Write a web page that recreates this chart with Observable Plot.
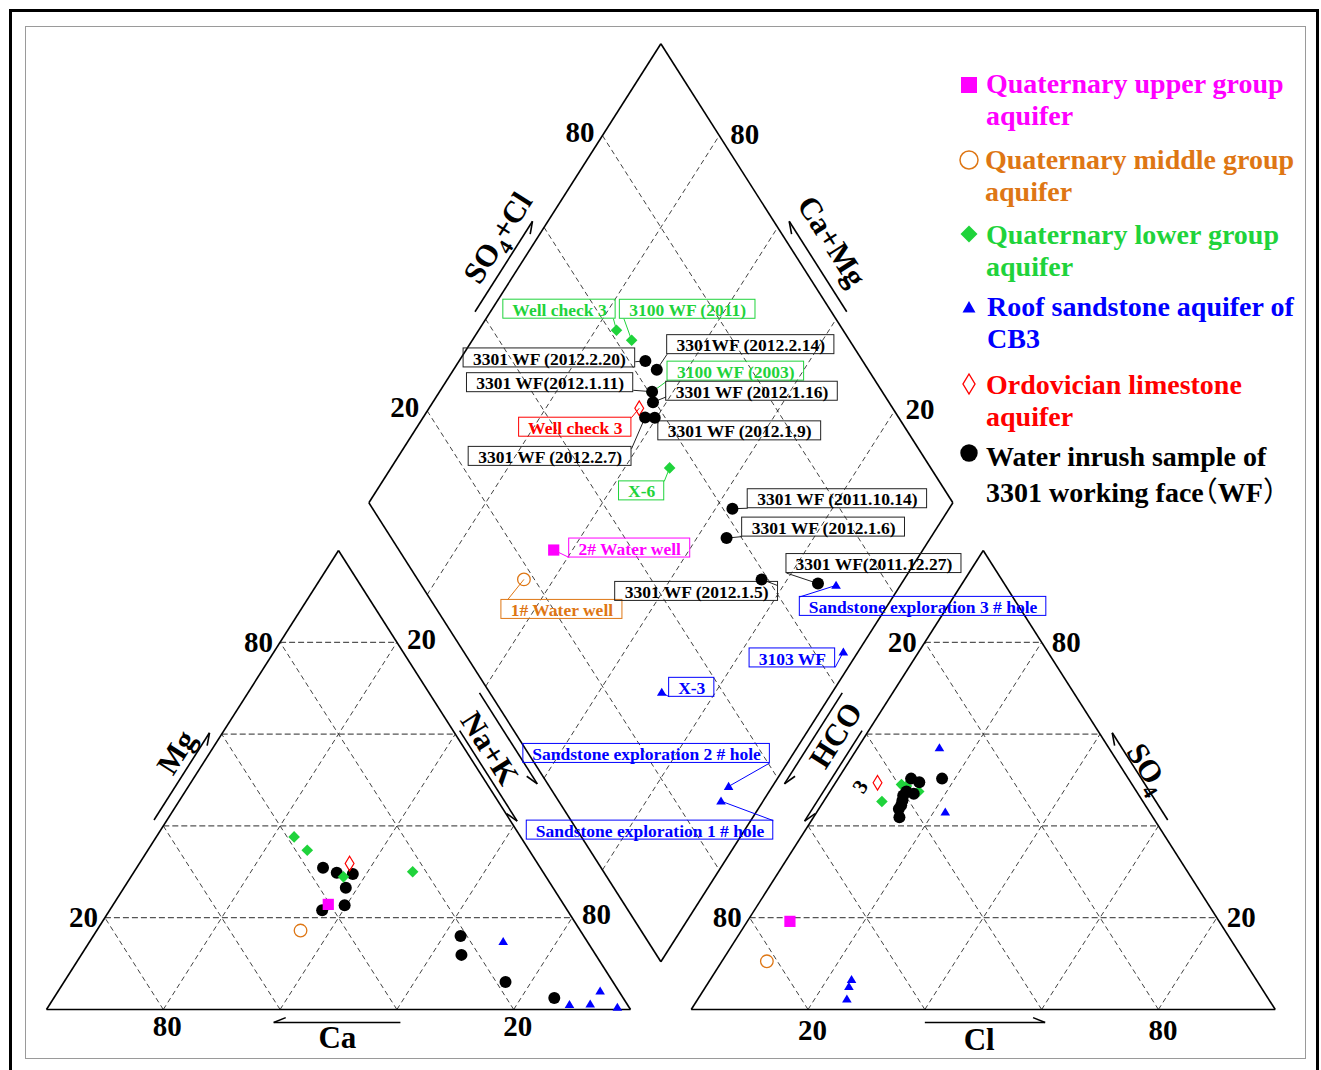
<!DOCTYPE html>
<html>
<head>
<meta charset="utf-8">
<script src="https://cdn.jsdelivr.net/npm/d3@7"></script>
<script src="https://cdn.jsdelivr.net/npm/@observablehq/plot@0.6"></script>
<style>
  body { margin: 0; background: #fff; }
  #fig { position: relative; width: 1321px; height: 1070px; overflow: hidden; font-family: "Liberation Serif", "Times New Roman", serif; }
  #outer { position: absolute; left: 9px; top: 9px; width: 1304px; height: 1090px; border: 3px solid #000; }
  #inner { position: absolute; left: 25px; top: 26px; width: 1279px; height: 1031px; border: 1px solid #9a9a9a; }
  #chart { position: absolute; left: 0; top: 0; }
  .leg { position: absolute; font-weight: bold; font-size: 28px; line-height: 31.5px; white-space: nowrap; }
  .legm { position: absolute; overflow: visible; }
  .fw { font-family: "Noto Sans CJK SC"; font-weight: 400; font-feature-settings: "halt" 1; }
</style>
</head>
<body>
<div id="fig">
  <div id="outer"></div>
  <div id="inner"></div>
  <div id="chart"></div>
</div>
<script>
// Piper diagram: aquifer samples and water-inrush samples of the 3301 working face

const G = 10.4; // gap between cation and anion triangles, in percent units

const sampleNames = [
  "2# Water well", "1# Water well",
  "Well check 3", "3100 WF (2011)", "3100 WF (2003)", "X-6",
  "Sandstone exploration 3 # hole", "3103 WF", "X-3", "Sandstone exploration 2 # hole", "Sandstone exploration 1 # hole",
  "Well check 3",
  "3301 WF (2012.2.20)", "3301WF (2012.2.14)", "3301 WF(2012.1.11)", "3301 WF (2012.1.16)", "3301 WF (2012.2.7)",
  "3301 WF (2012.1.9)", "3301 WF (2011.10.14)", "3301 WF (2012.1.6)", "3301 WF (2012.1.5)", "3301 WF(2011.12.27)"
];
const sampleGroups = [
  "upper", "middle",
  "lower", "lower", "lower", "lower",
  "roof", "roof", "roof", "roof", "roof",
  "ordovician",
  "inrush", "inrush", "inrush", "inrush", "inrush",
  "inrush", "inrush", "inrush", "inrush", "inrush"
];
// cations, % meq
const naK = [36.8, 34.9, 23.6, 27.3, 36.4, 47.7, 89.0, 97.5, 70.8, 92.5, 92.8, 36.0, 31.9, 34.8, 36.4, 37.7, 38.0, 39.7, 62.9, 65.1, 75.6, 85.7];
const mg  = [22.9, 17.2, 37.6, 34.7, 28.9, 30.0,  1.1,  0.5, 14.8,  1.2,  4.0, 31.8, 30.9, 29.8, 21.6, 29.5, 26.5, 22.7, 16.0, 11.9,  6.0,  2.5];
// anions, % meq
const so4 = [19.2, 10.5, 48.7, 47.5, 49.0, 45.3, 57.0, 43.0,  5.0,  6.5,  2.3, 49.4, 50.3, 49.5, 47.5, 46.6, 41.9, 44.5, 47.0, 43.7, 45.5, 50.3];
const cl  = [ 7.3,  7.7, 12.5, 15.2, 11.5, 10.0, 14.0, 22.0, 24.5, 24.2, 25.5,  7.2, 12.5, 14.3, 13.1, 13.0, 14.7, 13.7, 14.6, 13.7, 13.4, 17.8];

const tickValues = [20, 80];

const groupKeys = ["upper", "middle", "lower", "roof", "ordovician", "inrush"];
const groupLabels = [
  ["Quaternary upper group", "aquifer"],
  ["Quaternary middle group", "aquifer"],
  ["Quaternary lower group", "aquifer"],
  ["Roof sandstone aquifer of", "CB3"],
  ["Ordovician limestone", "aquifer"],
  ["Water inrush sample of", "3301 working face（WF）"]
];
const groupColors = ["#ff00ff", "#de7614", "#1fd33b", "#0000ff", "#ff0000", "#000000"];

// name box of each sample in the diamond: offset of box centre from the point (px) and leader anchor on the box
const labelPlacement = [
  [76, -2, 0, 1], [38, 30, 0.05, 0],
  [-57, -21, 0.98, 1], [56, -31, 0.03, 1], [84, -21, 0, 1], [-28, 23, 1, 0],
  [87, 21, 0, 0], [-51, 6, 1, 1], [30, -5, 0, 1], [-82, -33, 1, 1], [-71, 29, 1, 0],
  [-64, 19, 1, 0],
  [-96, -3, 1, 0.7], [94, -25, 0, 1], [-102, -9, 1, 0.9], [99, -11, 0, 0.8], [-95, 39, 1, 0.1],
  [85, 13, 0, 0.1], [105, -10, 0, 1], [97, -11, 0, 1], [-65, 12, 1, 0.2], [56, -20, 0, 1]
];

// ---- geometry ----
const X0 = 46, X1 = 630, Y0 = 1009, Y1 = 550;     // scale ranges
const KX = (X1 - X0) / 100, KY = (Y0 - Y1) / 100;
const toPx = ([u, t]) => [X0 + KX * u, Y0 - KY * t];
const toU = ([x, y]) => [(x - X0) / KX, (Y0 - y) / KY];

const cationPt = (n, m) => [n + m / 2, m];                    // Na+K, Mg
const anionPt = (s, c) => [100 + G + c + s / 2, s];             // SO4, Cl
const diamondPt = (n, a) => [(100 + G + a + n) / 2, 100 + G + a - n]; // Na+K, SO4+Cl

const L0 = cationPt(0, 0), L1 = cationPt(100, 0), L2 = cationPt(0, 100);
const R0 = anionPt(0, 0), R1 = anionPt(0, 100), R2 = anionPt(100, 0);
const DL = diamondPt(0, 0), DT = diamondPt(0, 100), DR = diamondPt(100, 100), DB = diamondPt(100, 0);
const LC = [50, 100 / 3], RC = [150 + G, 100 / 3], DC = [(200 + G) / 2, 100 + G];

const seg = (p, q, kind) => ({x1: p[0], y1: p[1], x2: q[0], y2: q[1], kind});

const outline = [[L0, L1], [L1, L2], [L2, L0], [R0, R1], [R1, R2], [R2, R0], [DL, DT], [DT, DR], [DR, DB], [DB, DL]]
  .map(([p, q]) => seg(p, q, "edge"));

const grid = [];
for (const k of [20, 40, 60, 80]) {
  grid.push(seg(cationPt(0, k), cationPt(100 - k, k), "h"));
  grid.push(seg(cationPt(k, 0), cationPt(k, 100 - k), "d"));
  grid.push(seg(cationPt(100 - k, 0), cationPt(0, 100 - k), "d"));
  grid.push(seg(anionPt(k, 0), anionPt(k, 100 - k), "h"));
  grid.push(seg(anionPt(0, k), anionPt(100 - k, k), "d"));
  grid.push(seg(anionPt(0, 100 - k), anionPt(100 - k, 0), "d"));
  grid.push(seg(diamondPt(k, 0), diamondPt(k, 100), "d"));
  grid.push(seg(diamondPt(0, k), diamondPt(100, k), "d"));
}

// local frame of an edge: origin, direction and outward normal in px
function frame(A, B, C) {
  const a = toPx(A), b = toPx(B), c = toPx(C);
  const L = Math.hypot(b[0] - a[0], b[1] - a[1]);
  const d = [(b[0] - a[0]) / L, (b[1] - a[1]) / L];
  let n = [-d[1], d[0]];
  if ((a[0] - c[0]) * n[0] + (a[1] - c[1]) * n[1] < 0) n = [-n[0], -n[1]];
  return {a, d, n, L};
}
function edgePx(F, f, off) {
  return [F.a[0] + F.d[0] * F.L * f + F.n[0] * off, F.a[1] + F.d[1] * F.L * f + F.n[1] * off];
}
function arrowSegs(A, B, C, f0, f1, off, headAtEnd) {
  const F = frame(A, B, C);
  const s = edgePx(F, f0, off), e = edgePx(F, f1, off);
  const tip = headAtEnd ? e : s;
  const back = headAtEnd ? [-F.d[0], -F.d[1]] : F.d;
  const len = 13, ang = 22 * Math.PI / 180;
  const barb = [tip[0] + len * (Math.cos(ang) * back[0] - Math.sin(ang) * F.n[0]),
                tip[1] + len * (Math.cos(ang) * back[1] - Math.sin(ang) * F.n[1])];
  return [seg(toU(s), toU(e), "arrow"), seg(toU(tip), toU(barb), "arrow")];
}

const arrows = [
  ...arrowSegs(L0, L2, LC, 0.40, 0.59, 11, true),      // Mg
  ...arrowSegs(L0, L1, LC, 0.389, 0.606, 13, false),   // Ca
  ...arrowSegs(L1, L2, LC, 0.404, 0.601, 5.5, false),  // Na+K
  ...arrowSegs(L1, L2, LC, 0.442, 0.64, 42.5, false),
  ...arrowSegs(R0, R2, RC, 0.404, 0.601, 5.5, false),  // HCO3
  ...arrowSegs(R0, R2, RC, 0.442, 0.64, 42.5, false),
  ...arrowSegs(R1, R2, RC, 0.40, 0.59, 11, true),      // SO4
  ...arrowSegs(R0, R1, RC, 0.40, 0.606, 13, true),     // Cl
  ...arrowSegs(DL, DT, DC, 0.401, 0.598, 13, true),    // SO4+Cl
  ...arrowSegs(DR, DT, DC, 0.401, 0.598, 13, true)     // Ca+Mg
];

const slope = Math.atan2(KY * 100, KX * 50) * 180 / Math.PI;
const titleAt = (A, B, C, f, off, text, rotate) => {
  const p = toU(edgePx(frame(A, B, C), f, off));
  return {x: p[0], y: p[1], text, rotate};
};
const titles = [
  titleAt(L0, L2, LC, 0.527, 28, "Mg", -slope),
  titleAt(L0, L1, LC, 0.498, 29, "Ca", 0),
  titleAt(L1, L2, LC, 0.544, 21, "Na+K", slope),
  titleAt(R0, R2, RC, 0.568, 25, "HCO", -slope),
  titleAt(R1, R2, RC, 0.50, 22, "SO4", slope),
  titleAt(R0, R1, RC, 0.493, 31, "Cl", 0),
  titleAt(DL, DT, DC, 0.538, 33, "SO4+Cl", -slope),
  titleAt(DR, DT, DC, 0.525, 38, "Ca+Mg", slope)
];
const hcoSub = [titleAt(R0, R2, RC, 0.5125, -23, "3", -slope)];

// tick labels: edge point shifted by a pixel offset
const tickAt = (p, v, dx, dy, anchor) => {
  const q = toPx(p);
  const u = toU([q[0] + dx, q[1] + dy]);
  return {x: u[0], y: u[1], text: String(v), anchor};
};
const ticks = [];
for (const v of tickValues) {
  ticks.push(tickAt(cationPt(0, v), v, -7, 0, "end"));               // Mg
  ticks.push(tickAt(cationPt(v, 100 - v), v, 10, -3, "start"));      // Na+K
  ticks.push(tickAt(cationPt(100 - v, 0), v, 4, 17, "middle"));      // Ca
  ticks.push(tickAt(anionPt(100 - v, 0), v, -8, 0, "end"));          // HCO3
  ticks.push(tickAt(anionPt(v, 100 - v), v, 10, 0, "start"));        // SO4
  ticks.push(tickAt(anionPt(0, v), v, 4.5, 21, "middle"));           // Cl
  ticks.push(tickAt(diamondPt(0, v), v, -8, -3, "end"));             // SO4+Cl
  ticks.push(tickAt(diamondPt(100 - v, 100), v, 11, -1, "start"));  // Ca+Mg
}

// ---- samples ----
const colorOf = Object.fromEntries(groupKeys.map((k, i) => [k, groupColors[i]]));
const rows = sampleNames.map((name, i) => ({
  name, group: sampleGroups[i],
  left: cationPt(naK[i], mg[i]),
  right: anionPt(so4[i], cl[i]),
  mid: diamondPt(naK[i], so4[i] + cl[i])
}));

const LABEL_SIZE = 17.5;
const ctx = document.createElement("canvas").getContext("2d");
ctx.font = `bold ${LABEL_SIZE}px "Liberation Serif"`;
const boxes = rows.map((r, i) => {
  const [dx, dy, ax, ay] = labelPlacement[i];
  const p = toPx(r.mid);
  const w = ctx.measureText(r.name).width + 18, h = 19;
  const cx = p[0] + dx, cy = p[1] + dy;
  const bx0 = cx - w / 2, by0 = cy - h / 2;
  const b0 = toU([bx0, by0]), b1 = toU([bx0 + w, by0 + h]);
  const c = toU([cx, cy + 1]);
  const anc = toU([bx0 + ax * w, by0 + ay * h]);
  const color = colorOf[r.group];
  return {name: r.name, color, box: color === "#000000" ? "#222" : color,
          x1: b0[0], y1: b0[1], x2: b1[0], y2: b1[1], cx: c[0], cy: c[1],
          lx1: anc[0], ly1: anc[1], lx2: r.mid[0], ly2: r.mid[1]};
});

// marker shapes
const sym = (pts) => ({draw(c, size) {
  const r = Math.sqrt(size / Math.PI);
  c.moveTo(pts[0][0] * r, pts[0][1] * r);
  for (const q of pts.slice(1)) c.lineTo(q[0] * r, q[1] * r);
  c.closePath();
}});
const squareSym = sym([[-1, -1], [1, -1], [1, 1], [-1, 1]]);
const diamondSym = sym([[0, -1], [1, 0], [0, 1], [-1, 0]]);
const tallDiamondSym = sym([[0, -1.65], [1, 0], [0, 1.65], [-1, 0]]);
const triangleSym = sym([[0, -0.95], [1, 0.72], [-1, 0.72]]);

const groupStyle = {
  upper: {symbol: squareSym, r: 5.6, fill: colorOf.upper, stroke: "none"},
  middle: {symbol: "circle", r: 6.3, fill: "none", stroke: colorOf.middle, strokeWidth: 1.3},
  lower: {symbol: diamondSym, r: 5.8, fill: colorOf.lower, stroke: "none"},
  roof: {symbol: triangleSym, r: 4.8, fill: colorOf.roof, stroke: "none"},
  ordovician: {symbol: tallDiamondSym, r: 4.4, fill: "none", stroke: colorOf.ordovician, strokeWidth: 1.2},
  inrush: {symbol: "circle", r: 6, fill: colorOf.inrush, stroke: "none"}
};
const leftOrder = ["inrush", "lower", "ordovician", "upper", "middle", "roof"];
const otherOrder = ["upper", "middle", "lower", "roof", "ordovician", "inrush"];
const dotMarks = [];
for (const [region, order] of [["left", leftOrder], ["right", otherOrder], ["mid", otherOrder]]) {
  for (const g of order) {
    const pts = rows.filter(r => r.group === g).map(r => r[region]);
    dotMarks.push(Plot.dot(pts, {x: d => d[0], y: d => d[1], ...groupStyle[g]}));
  }
}

const font = "Liberation Serif";
const chart = Plot.plot({
  width: 1321, height: 1070, margin: 0,
  x: {domain: [0, 100], range: [X0, X1], axis: null},
  y: {domain: [0, 100], range: [Y0, Y1], axis: null},
  style: {background: "transparent", overflow: "visible"},
  marks: [
    Plot.link(grid.filter(d => d.kind === "d"), {x1: "x1", y1: "y1", x2: "x2", y2: "y2", stroke: "#111", strokeWidth: 0.8, strokeDasharray: "5,3.5"}),
    Plot.link(grid.filter(d => d.kind === "h"), {x1: "x1", y1: "y1", x2: "x2", y2: "y2", stroke: "#555", strokeWidth: 1.2, strokeDasharray: "6,3"}),
    Plot.link(outline, {x1: "x1", y1: "y1", x2: "x2", y2: "y2", stroke: "#000", strokeWidth: 1.6}),
    Plot.link(arrows, {x1: "x1", y1: "y1", x2: "x2", y2: "y2", stroke: "#000", strokeWidth: 1.6}),
    Plot.text(titles, {x: "x", y: "y", text: "text", rotate: "rotate", fontFamily: font, fontWeight: "bold", fontSize: 31, fill: "#000"}),
    Plot.text(hcoSub, {x: "x", y: "y", text: "text", rotate: "rotate", fontFamily: font, fontWeight: "bold", fontSize: 21, fill: "#000"}),
    ...["start", "middle", "end"].map(a => Plot.text(ticks.filter(t => t.anchor === a), {
      x: "x", y: "y", text: "text", textAnchor: a, fontFamily: font, fontWeight: "bold", fontSize: 29, fill: "#000"})),
    Plot.link(boxes, {x1: "lx1", y1: "ly1", x2: "lx2", y2: "ly2", stroke: "box", strokeWidth: 1}),
    Plot.rect(boxes, {x1: "x1", x2: "x2", y1: "y1", y2: "y2", fill: "none", stroke: "box", strokeWidth: 1}),
    Plot.text(boxes, {x: "cx", y: "cy", text: "name", fill: "color", fontFamily: font, fontWeight: "bold", fontSize: LABEL_SIZE}),
    ...dotMarks
  ]
});

// subscripts in the ion names
const NS = "http://www.w3.org/2000/svg";
for (const t of chart.querySelectorAll("text")) {
  const s = t.textContent;
  if (s === "SO4" || s === "SO4+Cl") {
    t.textContent = "SO";
    const sub = document.createElementNS(NS, "tspan");
    sub.setAttribute("dy", "8");
    sub.setAttribute("font-size", "21");
    sub.textContent = "4";
    t.appendChild(sub);
    if (s.length > 3) {
      const rest = document.createElementNS(NS, "tspan");
      rest.setAttribute("dy", "-8");
      rest.textContent = s.slice(3);
      t.appendChild(rest);
    }
  }
}
document.getElementById("chart").appendChild(chart);

// ---- legend ----
const fig = document.getElementById("fig");
const legendTops = [68, 144, 219, 291, 369, 440];
const legendLeft = [986, 985, 986, 987, 986, 986];
const markerY = [84.5, 160, 234, 307, 384, 453];
const markerSvg = [
  `<rect x="-8" y="-8" width="16" height="16" fill="${groupColors[0]}"/>`,
  `<circle r="9" fill="none" stroke="${groupColors[1]}" stroke-width="1.5"/>`,
  `<path d="M0,-8.5L8.5,0L0,8.5L-8.5,0Z" fill="${groupColors[2]}"/>`,
  `<path d="M0,-6L6.5,5.5L-6.5,5.5Z" fill="${groupColors[3]}"/>`,
  `<path d="M0,-10L6,0L0,10L-6,0Z" fill="none" stroke="${groupColors[4]}" stroke-width="1.4"/>`,
  `<circle r="8.7" fill="${groupColors[5]}"/>`
];
const escapeHtml = s => s.replace(/&/g, "&amp;").replace(/</g, "&lt;");
groupKeys.forEach((k, i) => {
  const d = document.createElement("div");
  d.className = "leg";
  d.style.left = legendLeft[i] + "px";
  d.style.top = legendTops[i] + "px";
  d.style.color = groupColors[i];
  if (i === 5) d.style.lineHeight = "33.5px";
  // full-width brackets set in the CJK face with half-width spacing
  d.innerHTML = groupLabels[i].map(escapeHtml)
    .map(s => s.replace(/[（）]/g, c => `<span class="fw">${c}</span>`))
    .join("<br>");
  fig.appendChild(d);
  const m = document.createElementNS(NS, "svg");
  m.setAttribute("class", "legm");
  m.setAttribute("width", 24); m.setAttribute("height", 24);
  m.setAttribute("viewBox", "-12 -12 24 24");
  m.style.left = (969 - 12) + "px";
  m.style.top = (markerY[i] - 12) + "px";
  m.innerHTML = markerSvg[i];
  fig.appendChild(m);
});
</script>
</body>
</html>
